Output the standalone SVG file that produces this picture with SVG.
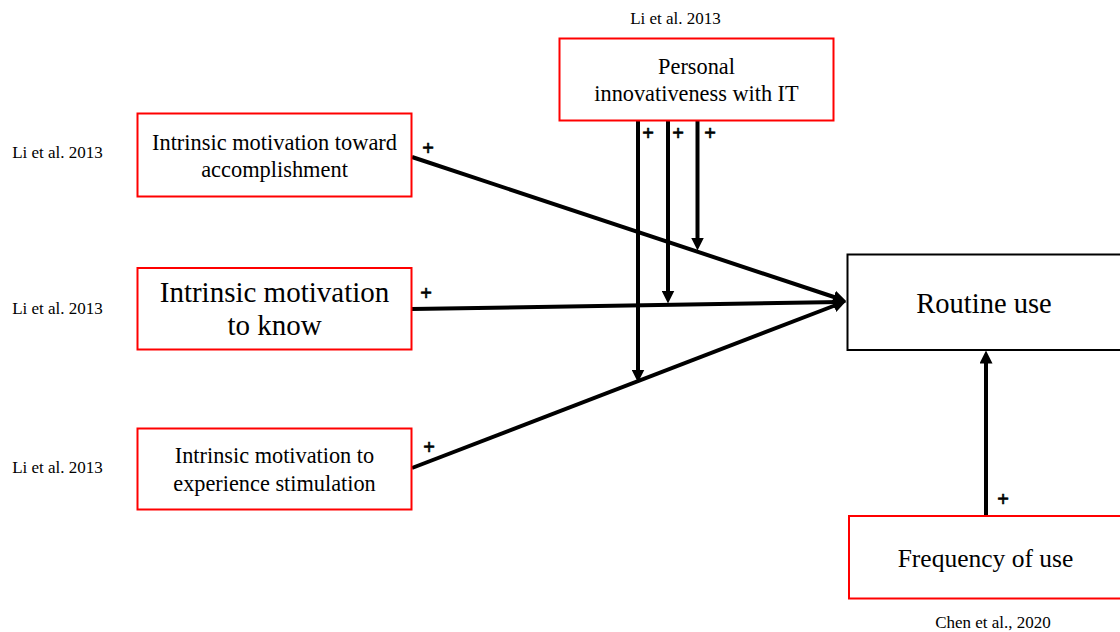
<svg xmlns="http://www.w3.org/2000/svg" width="1120" height="632" viewBox="0 0 1120 632">
  <style>
    .box { fill: #ffffff; stroke: #ff0000; stroke-width: 2; }
    .box-dark { fill: #ffffff; stroke: #000000; stroke-width: 2; }
    .label { font-family: "Liberation Serif", "Times New Roman", serif; fill: #000000; text-anchor: middle; }
    .cite { font-family: "Liberation Serif", "Times New Roman", serif; font-size: 17px; fill: #000000; text-anchor: middle; }
    .sign { font-family: "Liberation Sans", Arial, sans-serif; font-size: 20px; fill: #000000; stroke: #000000; stroke-width: 0.6; text-anchor: middle; }
    .edge { stroke: #000000; stroke-width: 4; fill: none; marker-end: url(#arrow); }
  </style>
  <defs>
    <marker id="arrow" markerUnits="userSpaceOnUse" markerWidth="13" markerHeight="13" viewBox="0 0 12 12" refX="6" refY="6" orient="auto">
      <path d="M0,0 L12,6 L0,12 z" fill="#000000"/>
    </marker>
  </defs>
  <rect width="1120" height="632" fill="#ffffff"/>

  <!-- connectors -->
  <g id="connectors">
    <line class="edge" x1="412" y1="157" x2="840" y2="299"/>
    <line class="edge" x1="412" y1="309" x2="840" y2="302"/>
    <line class="edge" x1="412" y1="468" x2="840" y2="303.5"/>
    <line class="edge" x1="638" y1="120" x2="638" y2="376"/>
    <line class="edge" x1="668" y1="120" x2="668" y2="297"/>
    <line class="edge" x1="697.5" y1="120" x2="697.5" y2="244"/>
    <line class="edge" x1="986" y1="516" x2="986" y2="357"/>
    <text class="sign" x="428" y="155">+</text>
    <text class="sign" x="426" y="300">+</text>
    <text class="sign" x="429" y="454">+</text>
    <text class="sign" x="648" y="140">+</text>
    <text class="sign" x="678" y="140">+</text>
    <text class="sign" x="710" y="140">+</text>
    <text class="sign" x="1003" y="506">+</text>
  </g>

  <!-- Personal innovativeness with IT -->
  <g id="node-pi">
    <text class="cite" x="675.5" y="24">Li et al. 2013</text>
    <rect class="box" x="559.5" y="38.5" width="274" height="82"/>
    <text class="label" font-size="22.3" x="696.5" y="74">Personal</text>
    <text class="label" font-size="22.3" x="696.5" y="101">innovativeness with IT</text>
  </g>

  <!-- Intrinsic motivation toward accomplishment -->
  <g id="node-ima">
    <text class="cite" x="57.5" y="158">Li et al. 2013</text>
    <rect class="box" x="137.5" y="113.5" width="274" height="83"/>
    <text class="label" font-size="22.4" x="274.5" y="150">Intrinsic motivation toward</text>
    <text class="label" font-size="22.4" x="274.5" y="177">accomplishment</text>
  </g>

  <!-- Intrinsic motivation to know -->
  <g id="node-imk">
    <text class="cite" x="57.5" y="314">Li et al. 2013</text>
    <rect class="box" x="137.5" y="268" width="274" height="81.5"/>
    <text class="label" font-size="29" x="274.5" y="302">Intrinsic motivation</text>
    <text class="label" font-size="29" x="274.5" y="335">to know</text>
  </g>

  <!-- Intrinsic motivation to experience stimulation -->
  <g id="node-ims">
    <text class="cite" x="57.5" y="473">Li et al. 2013</text>
    <rect class="box" x="137.5" y="428.5" width="274" height="81"/>
    <text class="label" font-size="22.3" x="274.5" y="463">Intrinsic motivation to</text>
    <text class="label" font-size="22.3" x="274.5" y="490.5">experience stimulation</text>
  </g>

  <!-- Routine use -->
  <g id="node-routine">
    <rect class="box-dark" x="847.5" y="254.5" width="290" height="95.5"/>
    <text class="label" font-size="28.5" x="984" y="313">Routine use</text>
  </g>

  <!-- Frequency of use -->
  <g id="node-freq">
    <rect class="box" x="849" y="516" width="290" height="82.5"/>
    <text class="label" font-size="25.5" x="985.5" y="567">Frequency of use</text>
    <text class="cite" x="993" y="628">Chen et al., 2020</text>
  </g>
</svg>
